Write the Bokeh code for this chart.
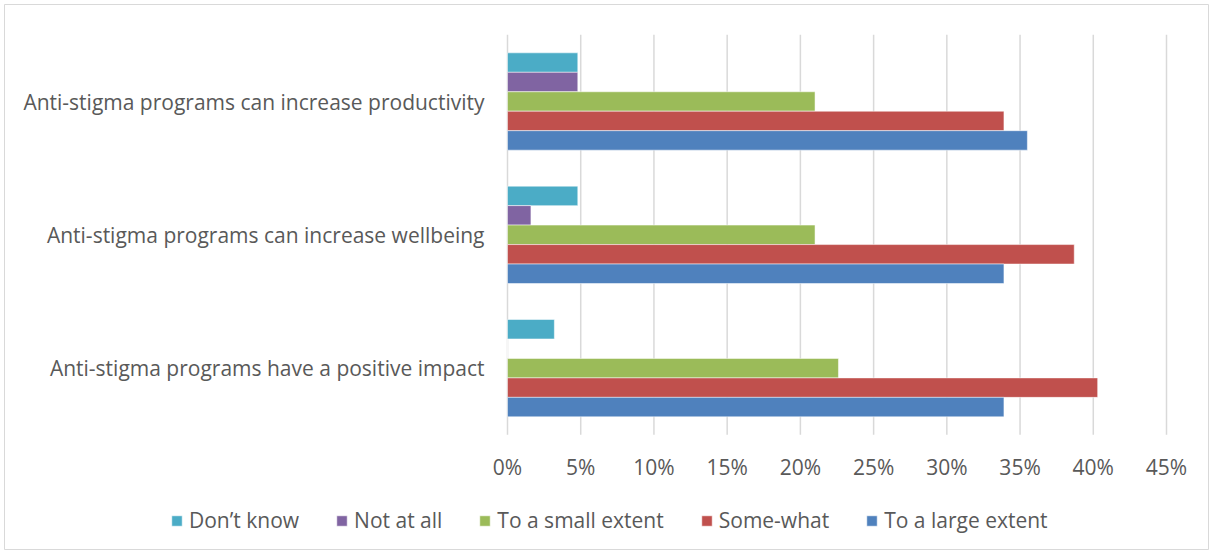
from bokeh.plotting import figure
from bokeh.models import ColumnDataSource, Range1d, Legend, LegendItem
from bokeh.transform import dodge
from bokeh.core.properties import value
from bokeh.embed import file_html
from bokeh.resources import INLINE

categories = [
    "Anti-stigma programs can increase productivity",
    "Anti-stigma programs can increase wellbeing",
    "Anti-stigma programs have a positive impact",
]
series_names = ["Don’t know", "Not at all", "To a small extent", "Some-what", "To a large extent"]
dont_know = [0.048, 0.048, 0.032]
not_at_all = [0.048, 0.016, 0.0]
small_extent = [0.210, 0.210, 0.226]
some_what = [0.339, 0.387, 0.403]
large_extent = [0.355, 0.339, 0.339]
x_ticks = [0, 0.05, 0.10, 0.15, 0.20, 0.25, 0.30, 0.35, 0.40, 0.45]
x_tick_labels = ["0%", "5%", "10%", "15%", "20%", "25%", "30%", "35%", "40%", "45%"]

colors = ["#4BACC6", "#8064A2", "#9BBB59", "#C0504D", "#4F81BD"]

n = len(categories)
cat_pos = [n - 1 - i for i in range(n)]  # first category on top
src = ColumnDataSource(dict(cat=categories, pos=cat_pos, base=[0] * n, s0=dont_know, s1=not_at_all,
                            s2=small_extent, s3=some_what, s4=large_extent))
tick_src = ColumnDataSource(dict(x=x_ticks, label=x_tick_labels,
                                 y0=[-0.5] * len(x_ticks), y1=[n - 0.5] * len(x_ticks)))

FONT = "Open Sans"
FS = "21px"
TXT = "#595959"
GRID = "#d9d9d9"

# layout of the plotting frame (pixels): whole chart box, 0% at x=507, 45% at x=1166,
# one category band = 133.33 px, first band centred at y=101
W, H = 1213, 553
L, T, R, B = 4, 4, 5, 4
kx = 659 / 0.45
x_start = -(507 - L) / kx
x_end = x_start + (W - L - R) / kx
band = 400 / 3
y_end = (n - 1) + (101 - T) / band
y_start = (n - 1) - (H - B - 101) / band

p = figure(width=W, height=H, output_backend="svg", toolbar_location=None,
           x_range=Range1d(x_start, x_end), y_range=Range1d(y_start, y_end),
           x_axis_location=None, y_axis_location=None,
           min_border_left=L, min_border_right=R, min_border_top=T, min_border_bottom=B)
p.grid.visible = False
p.outline_line_color = GRID
p.outline_line_width = 1

# vertical gridlines (0% line doubles as the category axis)
p.segment(x0="x", x1="x", y0="y0", y1="y1", source=tick_src, line_color=GRID, line_width=1.5)

h = 0.146
offsets = [2 * h, h, 0, -h, -2 * h]
renderers = []
for i in range(5):
    r = p.hbar(y=dodge("pos", offsets[i]), right="s%d" % i, left=0,
               height=h, source=src, fill_color=colors[i],
               line_color="white", line_alpha=0.5, line_width=1)
    renderers.append(r)

# category labels
p.text(x="base", y="pos", text="cat", source=src, x_offset=-23,
       text_align="right", text_baseline="middle", text_font=value(FONT),
       text_font_size=FS, text_color=TXT)

# x tick labels
p.text(x="x", y="y0", text="label", source=tick_src, y_offset=32,
       text_align="center", text_baseline="middle", text_font=value(FONT),
       text_font_size=FS, text_color=TXT)

items = [LegendItem(label=series_names[i], renderers=[renderers[i]]) for i in range(5)]
legend = Legend(items=items, orientation="horizontal", location=(166, 15),
                label_text_font=FONT, label_text_font_size=FS, label_text_color=TXT,
                glyph_width=13, glyph_height=13, label_standoff=6, spacing=36,
                padding=0, margin=0, border_line_color=None, background_fill_alpha=0)
p.add_layout(legend, "center")

open("out.html", "w").write(file_html(p, INLINE))
